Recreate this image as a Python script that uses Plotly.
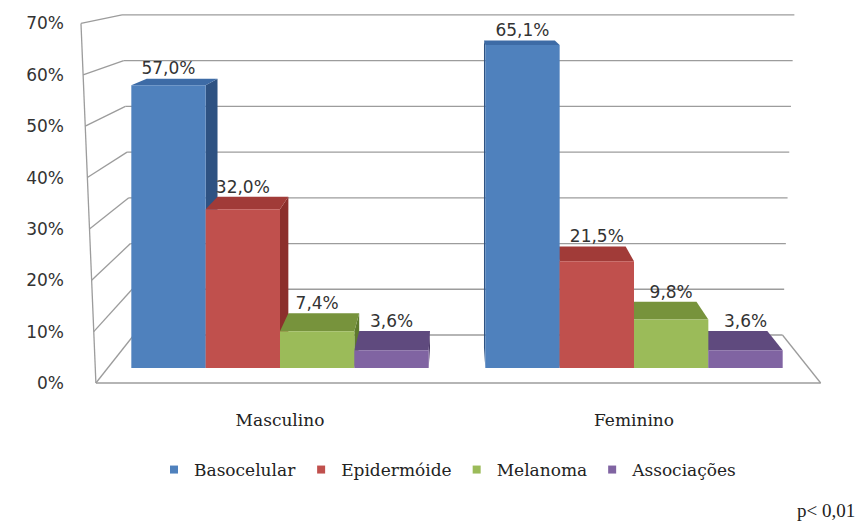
import plotly.graph_objects as go

# ---- data ----
categories = ["Masculino", "Feminino"]
series_names = ["Basocelular", "Epidermóide", "Melanoma", "Associações"]
basocelular = [57.0, 65.1]
epidermoide = [32.0, 21.5]
melanoma = [7.4, 9.8]
associacoes = [3.6, 3.6]
y_tick_values = [0, 10, 20, 30, 40, 50, 60, 70]
y_tick_labels = ["0%", "10%", "20%", "30%", "40%", "50%", "60%", "70%"]
p_value_note = "p< 0,01"

series_values = [basocelular, epidermoide, melanoma, associacoes]

# face colours per series: front, top, side
front_colors = ["#4F81BD", "#C0504D", "#9BBB59", "#8064A2"]
top_colors = ["#3D6BA6", "#A13B38", "#77933C", "#5F4A7E"]
side_colors = ["#2E5282", "#8C2F2C", "#5E7A2C", "#4B3A66"]

# ---- canvas / plot-area geometry (pixels) ----
W, H = 862, 523
L, R, T, B = 68, 850, 5, 395
CAT0_PX, CAT_PX = 280.0, 354.0      # pixel of first category, pixels per category step
ZERO_PX, PCT_PX = 368.0, 4.96       # pixel of 0 % on the bar plane, pixels per percent

x_range = [(L - CAT0_PX) / CAT_PX, (R - CAT0_PX) / CAT_PX]
y_range = [(ZERO_PX - B) / PCT_PX, (ZERO_PX - T) / PCT_PX]

# ---- simple perspective: points are scaled toward a vanishing point ----
VPX, VPY = 0.5, 85.0
S_BAR_BACK = 0.9528    # back of the columns
S_FLOOR_FRONT = 1.0356 # front edge of the floor / side wall
S_WALL = 0.9217        # back wall
WALL_X0, WALL_X1 = -0.485, 1.492
BAR_W = 0.21
KEYSTONE = 0.00057     # walls widen slightly with height
FLOOR_Y = VPY - S_FLOOR_FRONT * VPY


def proj(x, y, s):
    return VPX + s * (x - VPX), VPY + s * (y - VPY)


def wall_pt(x, y, s):
    px, py = proj(x, y, s)
    return VPX + (px - VPX) * (1 + KEYSTONE * (py - FLOOR_Y)), py


def poly(points):
    return "M " + " L ".join(f"{px:.5f},{py:.5f}" for px, py in points) + " Z"


def seg(p, q):
    return dict(type="line", xref="x", yref="y", x0=p[0], y0=p[1], x1=q[0], y1=q[1],
                line=dict(color="#9C9C9C", width=1.3), layer="below")


shapes = []

# side wall + back wall gridlines
top_v = y_tick_values[-1]
for v in y_tick_values:
    a = wall_pt(WALL_X0, v, S_FLOOR_FRONT)
    b = wall_pt(WALL_X0, v, S_WALL)
    c = wall_pt(WALL_X1, v, S_WALL)
    shapes.append(seg(a, b))
    shapes.append(seg(b, c))
# front edge of side wall
shapes.append(seg(wall_pt(WALL_X0, 0, S_FLOOR_FRONT), wall_pt(WALL_X0, top_v, S_FLOOR_FRONT)))
# floor outline
shapes.append(seg(wall_pt(WALL_X0, 0, S_FLOOR_FRONT), wall_pt(WALL_X1, 0, S_FLOOR_FRONT)))
shapes.append(seg(wall_pt(WALL_X1, 0, S_FLOOR_FRONT), wall_pt(WALL_X1, 0, S_WALL)))

# column geometry
bars = []
for si, vals in enumerate(series_values):
    for ci, v in enumerate(vals):
        xc = ci + (si - 1.5) * BAR_W
        bars.append((xc, v, si))

left_bars = sorted([b for b in bars if b[0] < VPX], key=lambda b: b[0])
right_bars = sorted([b for b in bars if b[0] >= VPX], key=lambda b: -b[0])

for xc, v, si in left_bars + right_bars:
    x0, x1 = xc - BAR_W / 2, xc + BAR_W / 2
    xs = x1 if xc < VPX else x0
    side = [(xs, 0), (xs, v), proj(xs, v, S_BAR_BACK), proj(xs, 0, S_BAR_BACK)]
    top = [(x0, v), (x1, v), proj(x1, v, S_BAR_BACK), proj(x0, v, S_BAR_BACK)]
    shapes.append(dict(type="path", xref="x", yref="y", path=poly(side),
                       fillcolor=side_colors[si], line=dict(width=0), layer="below"))
    shapes.append(dict(type="path", xref="x", yref="y", path=poly(top),
                       fillcolor=top_colors[si], line=dict(width=0), layer="below"))

fig = go.Figure()

# column front faces
for si, (name, vals) in enumerate(zip(series_names, series_values)):
    fig.add_trace(go.Bar(
        name=name,
        x=[ci + (si - 1.5) * BAR_W for ci in range(len(categories))],
        y=vals,
        width=BAR_W,
        marker=dict(color=front_colors[si], line=dict(width=0)),
        legendgroup=name, showlegend=False,
        hoverinfo="skip",
    ))

# small square legend keys
for si, name in enumerate(series_names):
    fig.add_trace(go.Scatter(
        x=[None], y=[None], mode="markers", name=name, legendgroup=name,
        marker=dict(symbol="square", size=8, color=front_colors[si]),
    ))

# value labels, above the back edge of each column top
lab_x, lab_y, lab_t = [], [], []
for xc, v, si in bars:
    _, by = proj(xc, v, S_BAR_BACK)
    lab_x.append(xc)
    lab_y.append(by)
    lab_t.append(f"{v:.1f}".replace(".", ",") + "%")
fig.add_trace(go.Scatter(
    x=lab_x, y=lab_y, text=lab_t, mode="text", textposition="top center",
    textfont=dict(family="DejaVu Sans", size=17, color="#333333"),
    showlegend=False, hoverinfo="skip",
))

# percentage scale along the front edge of the side wall
y2_range = [VPY + (y_range[0] - VPY) / S_FLOOR_FRONT, VPY + (y_range[1] - VPY) / S_FLOOR_FRONT]
fig.add_trace(go.Scatter(x=[None], y=[None], yaxis="y2", showlegend=False, hoverinfo="skip"))

fig.update_layout(
    width=W, height=H,
    margin=dict(l=L, r=W - R, t=T, b=H - B),
    paper_bgcolor="white", plot_bgcolor="white",
    barmode="overlay",
    shapes=shapes,
    showlegend=True,
    xaxis=dict(range=x_range, tickvals=list(range(len(categories))), ticktext=categories,
               showgrid=False, zeroline=False, showline=False, ticks="",
               ticklabelstandoff=13,
               tickfont=dict(family="DejaVu Serif", size=17, color="#222222")),
    yaxis=dict(range=y_range, visible=False, showgrid=False, zeroline=False),
    yaxis2=dict(range=y2_range, overlaying="y", side="left", tickvals=y_tick_values,
                ticktext=y_tick_labels, showgrid=False, zeroline=False, showline=False,
                ticks="", ticklabelstandoff=3,
                tickfont=dict(family="DejaVu Sans", size=17, color="#333333")),
    legend=dict(orientation="h", xanchor="center", yanchor="middle",
                x=(448 - L) / (R - L), y=(B - 470) / (B - T),
                font=dict(family="DejaVu Serif", size=17, color="#222222"),
                itemwidth=30, tracegroupgap=0),
    annotations=[dict(text=p_value_note, xref="paper", yref="paper",
                      x=(857 - L) / (R - L), y=(B - 510) / (B - T),
                      xanchor="right", yanchor="middle", showarrow=False,
                      font=dict(family="Liberation Serif", size=19, color="#222222"))],
)

fig.write_html("out.html")
